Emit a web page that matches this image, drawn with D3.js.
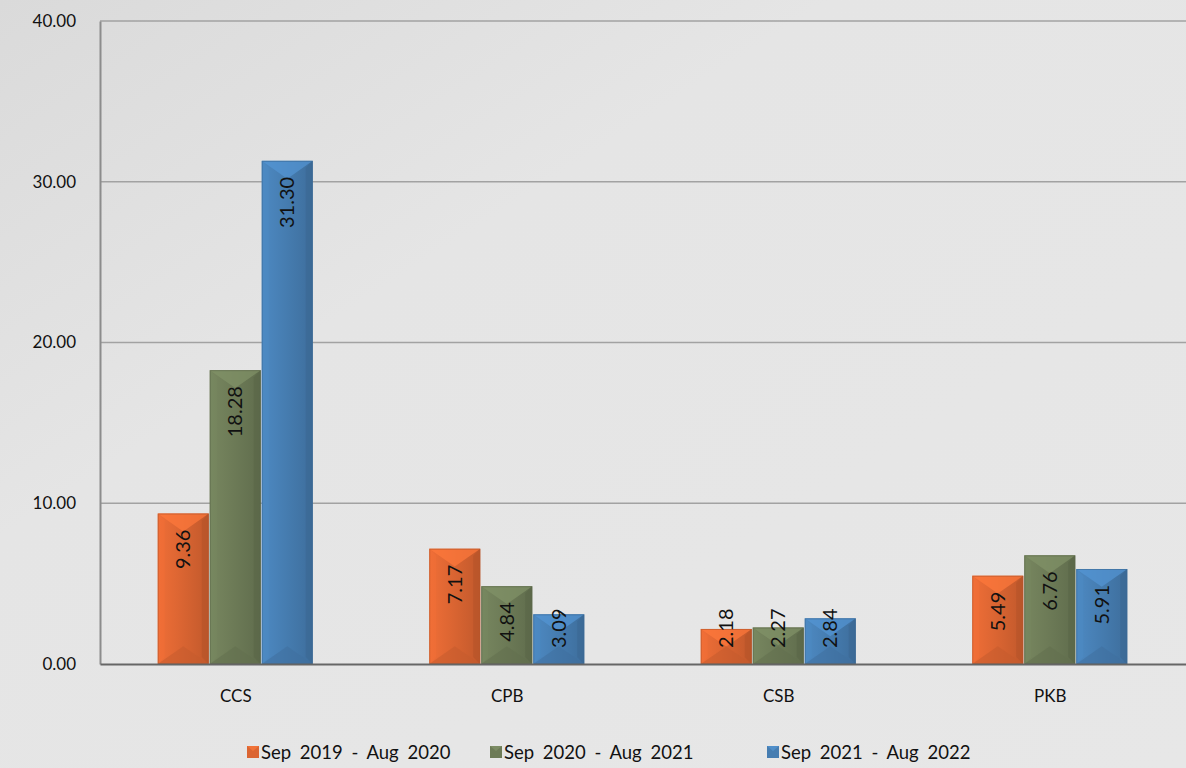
<!DOCTYPE html>
<html><head><meta charset="utf-8">
<script src="https://cdn.jsdelivr.net/npm/d3@7"></script>
<style>html,body{margin:0;padding:0;background:#e6e6e6;}svg{display:block;}</style>
</head><body>
<svg id="c" width="1186" height="768"></svg>
<script>
const categories = ["CCS", "CPB", "CSB", "PKB"];
const seriesNames = ["Sep 2019 - Aug 2020", "Sep 2020 - Aug 2021", "Sep 2021 - Aug 2022"];
const s2019 = [9.36, 7.17, 2.18, 5.49];
const s2020 = [18.28, 4.84, 2.27, 6.76];
const s2021 = [31.30, 3.09, 2.84, 5.91];
const yTicks = [0, 10, 20, 30, 40];
const colors = ["#DB6532", "#6D7B57", "#467DB1"];
const seriesValues = [s2019, s2020, s2021];

const svg = d3.select("#c");
const W = 1186, H = 768;
const FONT = "Lato, 'Open Sans', sans-serif";
const defs = svg.append("defs");
const bg = defs.append("linearGradient").attr("id","bg").attr("x1","0").attr("y1","0").attr("x2","1").attr("y2","1");
bg.append("stop").attr("offset","0").attr("stop-color","#dadada");
bg.append("stop").attr("offset","0.35").attr("stop-color","#e5e5e5");
bg.append("stop").attr("offset","1").attr("stop-color","#e7e7e7");
svg.append("rect").attr("width",W).attr("height",H).attr("fill","url(#bg)");

const m = {l:100, r:0, t:21, b:104};
const x0 = d3.scaleBand().domain(categories).range([m.l, W - m.r]).paddingInner(0).paddingOuter(0);
const groupW = 156;
const x1 = d3.scaleBand().domain(d3.range(3)).range([0, groupW]).padding(0);
const y = d3.scaleLinear().domain([0, 40]).range([H - m.b, m.t]);

// gridlines
svg.append("g").selectAll("line").data(yTicks.filter(d=>d>0)).join("line")
  .attr("x1", m.l).attr("x2", W).attr("y1", d=>y(d)).attr("y2", d=>y(d))
  .attr("stroke","#a2a2a2").attr("stroke-width",1.3);

// y axis
const yAxis = d3.axisLeft(y).tickValues(yTicks).tickFormat(d3.format(".2f")).tickSize(0).tickPadding(24);
const ya = svg.append("g").attr("transform",`translate(${m.l},0)`).call(yAxis);
ya.select(".domain").attr("stroke","#8c8c8c").attr("stroke-width",2);
ya.selectAll("text").attr("font-family",FONT).attr("font-size",17).attr("fill","#111");

colors.forEach((c,i)=>{
  const g = defs.append("linearGradient").attr("id","bar"+i).attr("x1","0").attr("x2","1").attr("y1","0").attr("y2","0");
  g.append("stop").attr("offset","0").attr("stop-color", d3.color(c).brighter(0.25));
  g.append("stop").attr("offset","0.45").attr("stop-color", c);
  g.append("stop").attr("offset","1").attr("stop-color", d3.color(c).darker(0.35));
});

const data = [];
categories.forEach((cat,ci)=>{
  seriesValues.forEach((vals,si)=>{ data.push({cat, si, v: vals[ci]}); });
});

const bars = svg.append("g").selectAll("g").data(data).join("g")
  .attr("transform", d=>`translate(${x0(d.cat) + x0.bandwidth()/2 - groupW/2 + x1(d.si)},0)`);

bars.each(function(d){
  const g = d3.select(this);
  const w = x1.bandwidth() - 1;
  const top = y(d.v), bot = y(0), h = bot - top;
  const c = colors[d.si];
  const b = Math.min(7, h/2);
  g.append("rect").attr("x",0).attr("y",top).attr("width",w).attr("height",h)
    .attr("fill","url(#bar"+d.si+")");
  const tb = Math.min(w/2*0.7, h/2);
  g.append("path").attr("d",`M0,${top}L${w},${top}L${w/2},${top+tb}Z`)
    .attr("fill", d3.color(c).brighter(0.5)).attr("opacity",0.7);
  g.append("path").attr("d",`M0,${bot}L${w},${bot}L${w/2},${bot-tb}Z`)
    .attr("fill", d3.color(c).darker(0.3)).attr("opacity",0.55);
  g.append("path").attr("d",`M0,${top}L${b},${top+b}L${b},${bot-b}L0,${bot}Z`)
    .attr("fill", d3.color(c).brighter(0.3)).attr("opacity",0.4);
  g.append("path").attr("d",`M${w},${top}L${w-b},${top+b}L${w-b},${bot-b}L${w},${bot}Z`)
    .attr("fill", d3.color(c).darker(0.6)).attr("opacity",0.5);
  g.append("rect").attr("x",0.5).attr("y",top+0.5).attr("width",w-1).attr("height",h-1)
    .attr("fill","none").attr("stroke", d3.color(c).darker(0.5)).attr("stroke-width",1).attr("opacity",0.6);
  const t = g.append("text").attr("text-anchor","end").attr("font-family",FONT).attr("font-size",20).attr("fill","#111")
    .text(d3.format(".2f")(d.v));
  const len = t.node().getComputedTextLength();
  const endY = Math.min(top + 16, bot - 16 - len);
  t.attr("transform",`translate(${w/2+7},${endY}) rotate(-90)`);
});

// x axis
const xAxis = d3.axisBottom(x0).tickSize(0).tickPadding(26);
const xa = svg.append("g").attr("transform",`translate(0,${y(0)})`).call(xAxis);
xa.select(".domain").attr("stroke","#666").attr("stroke-width",2.2);
xa.selectAll("text").attr("font-family",FONT).attr("font-size",17).attr("fill","#111");

// legend
const legX = [247, 490, 767];
const leg = svg.append("g").selectAll("g").data(seriesNames).join("g")
  .attr("transform",(d,i)=>`translate(${legX[i]},746)`);
leg.append("rect").attr("width",12).attr("height",12).attr("y",0)
  .attr("fill",(d,i)=>colors[i]);
leg.append("path").attr("d","M0,0L12,0L6,5Z").attr("fill",(d,i)=>d3.color(colors[i]).brighter(0.6)).attr("opacity",0.6);
leg.append("text").attr("x",14).attr("y",13).attr("font-family",FONT).attr("font-size",18.5)
  .attr("word-spacing",4).attr("fill","#111")
  .text(d=>d);
</script>
</body></html>
